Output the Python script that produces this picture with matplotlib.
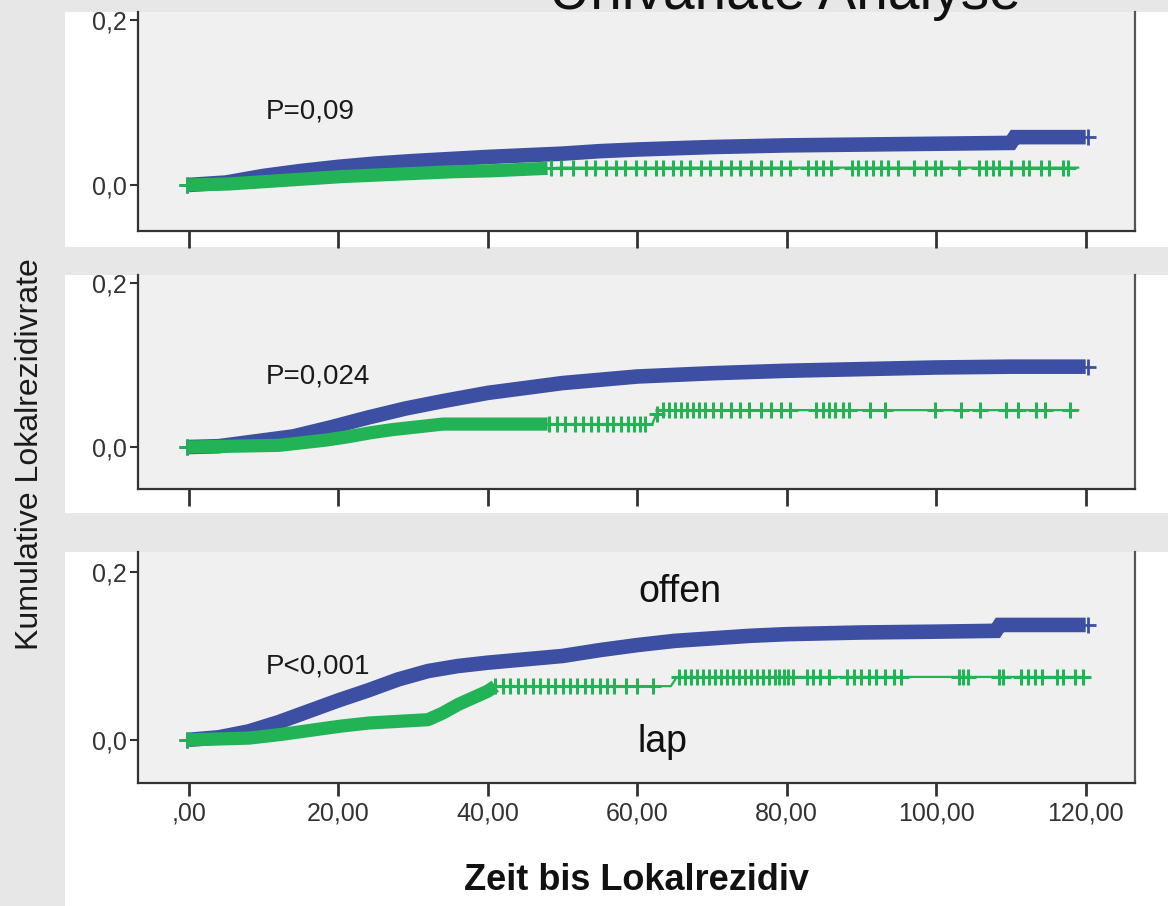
import numpy as np
import matplotlib.pyplot as plt
from matplotlib.patches import Rectangle

plt.rcParams['font.family'] = ['Liberation Sans', 'DejaVu Sans']

# --- data (months, cumulative rate) ---
# panel 1
t1_blue = [0, 5, 10, 15, 20, 25, 30, 40, 50, 55, 60, 70, 80, 90, 100, 110, 110.5, 120]
y1_blue = [0, 0.003, 0.011, 0.017, 0.022, 0.026, 0.029, 0.034, 0.038, 0.041, 0.043, 0.046, 0.048, 0.049, 0.050, 0.051, 0.058, 0.058]
t1_green = [0, 5, 10, 15, 20, 25, 30, 35, 40, 45, 50, 119]
y1_green = [0, 0.001, 0.004, 0.007, 0.010, 0.012, 0.014, 0.016, 0.017, 0.019, 0.021, 0.021]
band1_end = 48
cens1 = [48.4, 49.8, 51.4, 53.1, 54.4, 55.8, 57.1, 58.4, 59.8, 61.1, 62.5, 63.4, 64.8, 65.8,
         67.1, 68.5, 69.8, 71.2, 72.5, 73.8, 75.2, 76.5, 77.9, 79.2, 80.5, 82.9, 83.9, 84.8,
         85.9, 88.8, 89.6, 90.6, 91.5, 92.6, 93.6, 94.9, 97.0, 98.6, 99.9, 100.6, 103.0,
         105.7, 106.6, 107.6, 108.4, 110.0, 111.6, 112.4, 114.0, 115.1, 117.0, 117.7]

# panel 2
t2_blue = [0, 4, 9, 14, 19, 24, 29, 34, 40, 45, 50, 55, 60, 65, 70, 80, 90, 100, 110, 120]
y2_blue = [0, 0.001, 0.007, 0.013, 0.024, 0.036, 0.047, 0.056, 0.066, 0.072, 0.078, 0.082, 0.086, 0.088, 0.090, 0.093, 0.095, 0.097, 0.098, 0.098]
t2_green = [0, 12, 15, 18, 21, 24, 27, 30, 34, 62, 62.8, 119]
y2_green = [0, 0.002, 0.005, 0.008, 0.012, 0.017, 0.021, 0.024, 0.028, 0.028, 0.045, 0.045]
band2_end = 48
cens2 = [48.2, 49.2, 50.4, 51.7, 52.8, 53.8, 54.8, 55.9, 56.7, 57.8, 58.8, 59.6, 60.4, 61.1,
         62.6, 63.4, 64.2, 65.0, 65.8, 66.6, 67.4, 68.2, 69.0, 70.1, 71.2, 72.5, 73.8, 74.9,
         76.5, 77.9, 79.2, 80.5, 83.9, 84.8, 85.6, 86.5, 87.5, 88.3, 91.2, 93.2, 99.9, 103.3,
         105.9, 109.3, 111.0, 113.3, 114.6, 117.9]

# panel 3
t3_blue = [0, 4, 8, 12, 16, 20, 24, 28, 32, 36, 40, 45, 50, 55, 60, 65, 70, 75, 80, 90, 100, 108, 108.5, 120]
y3_blue = [0, 0.003, 0.010, 0.021, 0.034, 0.047, 0.059, 0.072, 0.082, 0.088, 0.092, 0.096, 0.100, 0.107, 0.113, 0.118, 0.121, 0.124, 0.126, 0.128, 0.129, 0.130, 0.137, 0.137]
t3_green = [0, 8, 12, 16, 20, 24, 28, 32, 34, 36, 38, 40, 41, 64.5, 65.3, 119.6]
y3_green = [0, 0.002, 0.006, 0.011, 0.016, 0.020, 0.022, 0.024, 0.032, 0.042, 0.050, 0.058, 0.064, 0.064, 0.075, 0.075]
band3_end = 41
cens3 = [41.0, 42.0, 43.0, 44.0, 45.0, 46.0, 47.0, 48.0, 49.0, 50.0, 51.0, 52.0, 53.0, 54.0,
         55.0, 56.0, 56.9, 58.5, 60.0, 62.1,
         65.6, 66.4, 67.2, 68.0, 68.8, 69.6, 70.4, 71.2, 72.0, 72.8, 73.6, 74.4, 75.2, 76.0,
         76.8, 77.6, 78.4, 79.0, 79.6, 80.2, 80.8, 82.7, 83.5, 84.5, 85.6, 88.0, 89.0, 90.0,
         91.0, 92.0, 93.2, 94.3, 95.3, 103.0, 103.6, 104.3, 108.4, 109.0, 111.3, 112.3,
         113.2, 114.2, 116.1, 116.9, 118.6, 119.6]

p_labels = ['P=0,09', 'P=0,024', 'P<0,001']
x_ticks = [0, 20, 40, 60, 80, 100, 120]
x_ticklabels = [',00', '20,00', '40,00', '60,00', '80,00', '100,00', '120,00']
y_ticks = [0.0, 0.2]
y_ticklabels = ['0,0', '0,2']

blue = '#3c4fa2'
green = '#22b357'

W, H = 1168, 906
fig = plt.figure(figsize=(W / 100, H / 100), dpi=100)
fig.patch.set_facecolor('#e7e7e7')

# white panel backgrounds (pixel rows from the top)
for top, bot in [(12, 247), (275, 513), (552, 906)]:
    fig.patches.append(Rectangle((65 / W, 1 - bot / H), 1 - 65 / W, (bot - top) / H,
                                 transform=fig.transFigure, facecolor='white',
                                 edgecolor='none', zorder=-10))

# axes boxes in pixels: (top, bottom), ylim
boxes = [((12, 231), (-0.0558, 0.2097)),
         ((275, 489), (-0.0512, 0.2098)),
         ((552, 783), (-0.0515, 0.224))]

panels = [(t1_blue, y1_blue, t1_green, y1_green, band1_end, cens1),
          (t2_blue, y2_blue, t2_green, y2_green, band2_end, cens2),
          (t3_blue, y3_blue, t3_green, y3_green, band3_end, cens3)]

left, right = 138, 1135
for i, ((top, bot), ylim) in enumerate(boxes):
    ax = fig.add_axes([left / W, 1 - bot / H, (right - left) / W, (bot - top) / H])
    ax.set_facecolor('#f0f0f0')
    tb, yb, tg, yg, band_end, cens = panels[i]

    # blue: heavy censoring gives a thick band
    ax.plot(tb, yb, color=blue, lw=10.5, solid_capstyle='butt',
            solid_joinstyle='miter', zorder=2)
    ax.plot([tb[0] - 0.3, tb[-1] + 0.3], [yb[0], yb[-1]], ls='none', marker='+',
            ms=12, mew=2, color=blue, zorder=2)

    # green: thin line, dense censoring band, sparse censor marks
    tg_arr = np.array(tg)
    ax.plot(tg, yg, color=green, lw=1.6, zorder=3)
    t_band = np.linspace(0, band_end, 200)
    ax.plot(t_band, np.interp(t_band, tg_arr, yg), color=green, lw=9.5,
            solid_capstyle='butt', zorder=3)
    ax.plot([tg[0] - 0.3], [yg[0]], marker='+', ms=12, mew=2, color=green, zorder=3)
    ax.plot(cens, np.interp(cens, tg_arr, yg), ls='none', marker='+', ms=12,
            mew=2.2, color=green, zorder=3)

    ax.set_xlim(-6.8, 126.6)
    ax.set_ylim(*ylim)
    ax.set_yticks(y_ticks)
    ax.set_yticklabels(y_ticklabels)
    ax.set_xticks(x_ticks)
    if i == 2:
        ax.set_xticklabels(x_ticklabels)
        ax.tick_params(axis='x', length=9, width=2, pad=4, labelsize=18, colors='#333333')
    else:
        ax.set_xticklabels([])
        ax.tick_params(axis='x', length=12, width=2, color='#333333')
    ax.tick_params(axis='y', length=6, width=1.5, pad=2, labelsize=18, colors='#333333')

    ax.spines['top'].set_visible(False)
    for s in ['left', 'bottom', 'right']:
        ax.spines[s].set_linewidth(1.6)
        ax.spines[s].set_color('#333333')
    ax.spines['right'].set_color('#555555')

    ax.text(10.3, [0.081, 0.078, 0.079][i], p_labels[i], fontsize=20, va='baseline',
            ha='left', color='#1a1a1a', zorder=5)
    if i == 2:
        ax.text(60.1, 0.164, 'offen', fontsize=27, va='baseline', ha='left', color='#111111')
        ax.text(60.1, -0.015, 'lap', fontsize=27, va='baseline', ha='left', color='#111111')

fig.text(785 / W, 1 - 9 / H, 'Univariate Analyse', fontsize=41, ha='center',
         va='baseline', color='#111111')
fig.text(30 / W, 1 - 454 / H, 'Kumulative Lokalrezidivrate', fontsize=23,
         rotation=90, ha='center', va='center', color='#1a1a1a')
fig.text(636 / W, 1 - 890 / H, 'Zeit bis Lokalrezidiv', fontsize=26, fontweight='bold',
         ha='center', va='baseline', color='#111111')

fig.savefig('out.png', dpi=100, facecolor=fig.get_facecolor())
